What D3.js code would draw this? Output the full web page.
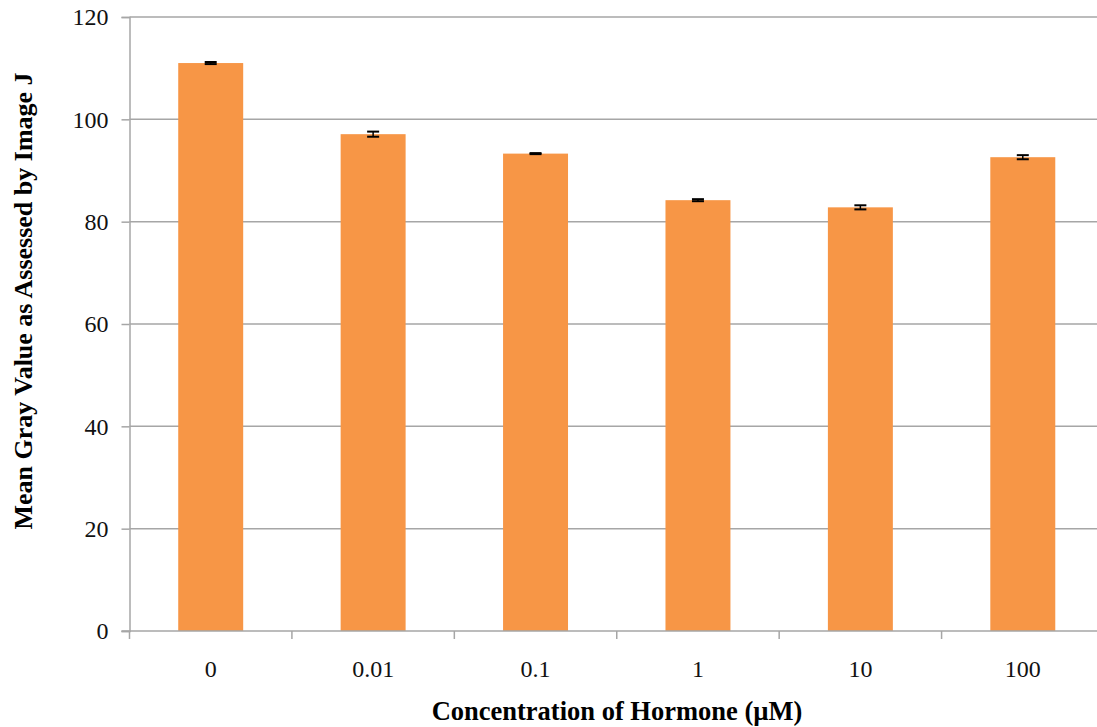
<!DOCTYPE html>
<html><head><meta charset="utf-8">
<script src="https://cdn.jsdelivr.net/npm/d3@7"></script>
<style>html,body{margin:0;padding:0;background:#fff;}</style>
</head><body>
<svg id="c" width="1097" height="727"></svg>
<script>
const categories = ["0", "0.01", "0.1", "1", "10", "100"];
const values = [111.0, 97.1, 93.3, 84.2, 82.8, 92.6];
const errors = [0.2, 0.5, 0.1, 0.2, 0.4, 0.4];
const yTicks = [0, 20, 40, 60, 80, 100, 120];

(function () {
const svg = d3.select("#c");
const pLeft = 129.5, pRight = 1104, pTop = 17, pBottom = 631;
const x = d3.scaleBand().domain(categories).range([pLeft, pRight]).paddingInner(0.6).paddingOuter(0.3);
const xb = d3.scaleBand().domain(categories).range([pLeft, pRight]);
const y = d3.scaleLinear().domain([0, 120]).range([pBottom, pTop]);
const grid = "#a6a6a6";
const font = "'Liberation Serif', 'Times New Roman', serif";

// gridlines
svg.append("g").selectAll("line").data(yTicks.filter(d => d > 0)).join("line")
  .attr("x1", pLeft).attr("x2", 1097).attr("y1", d => y(d)).attr("y2", d => y(d))
  .attr("stroke", grid).attr("stroke-width", 1.5);

// y axis
const ya = svg.append("g").attr("transform", `translate(${pLeft},0)`)
  .call(d3.axisLeft(y).tickValues(yTicks).tickSize(8).tickPadding(13));
ya.select(".domain").attr("stroke", grid).attr("stroke-width", 1.5);
ya.selectAll(".tick line").attr("stroke", grid).attr("stroke-width", 1.5);
ya.selectAll("text").attr("font-family", font).attr("font-size", 24).attr("fill", "#111");

// bars
svg.append("g").selectAll("rect").data(categories).join("rect")
  .attr("x", d => x(d)).attr("width", x.bandwidth())
  .attr("y", (d, i) => y(values[i])).attr("height", (d, i) => y(0) - y(values[i]))
  .attr("fill", "#f79646");

// error bars
const eb = svg.append("g");
categories.forEach((c, i) => {
  const cx = x(c) + x.bandwidth() / 2;
  const y1 = y(values[i] + errors[i]), y2 = y(values[i] - errors[i]);
  eb.append("line").attr("x1", cx).attr("x2", cx).attr("y1", y1).attr("y2", y2).attr("stroke", "#000").attr("stroke-width", 1.5);
  [y1, y2].forEach(yy => eb.append("line").attr("x1", cx - 6).attr("x2", cx + 6).attr("y1", yy).attr("y2", yy).attr("stroke", "#000").attr("stroke-width", 2));
});

// x axis
const xg = svg.append("g").attr("transform", `translate(0,${pBottom})`);
xg.append("line").attr("x1", pLeft - 8).attr("x2", 1097).attr("stroke", grid).attr("stroke-width", 1.5);
xg.selectAll("line.t").data(categories).join("line").attr("class", "t")
  .attr("x1", d => xb(d)).attr("x2", d => xb(d)).attr("y1", 0).attr("y2", 8)
  .attr("stroke", grid).attr("stroke-width", 1.5);
xg.selectAll("text").data(categories).join("text")
  .attr("x", d => xb(d) + xb.bandwidth() / 2).attr("y", 46)
  .attr("text-anchor", "middle").attr("font-family", font).attr("font-size", 24).attr("fill", "#111")
  .text(d => d);

// titles
svg.append("text").attr("x", 617).attr("y", 720).attr("text-anchor", "middle")
  .attr("font-family", font).attr("font-weight", "bold").attr("font-size", 26.5).attr("fill", "#000")
  .text("Concentration of Hormone (µM)");
svg.append("text").attr("transform", "translate(32,301) rotate(-90)").attr("text-anchor", "middle")
  .attr("font-family", font).attr("font-weight", "bold").attr("font-size", 26).attr("fill", "#000")
  .text("Mean Gray Value as Assessed by Image J");
})();
</script>
</body></html>
